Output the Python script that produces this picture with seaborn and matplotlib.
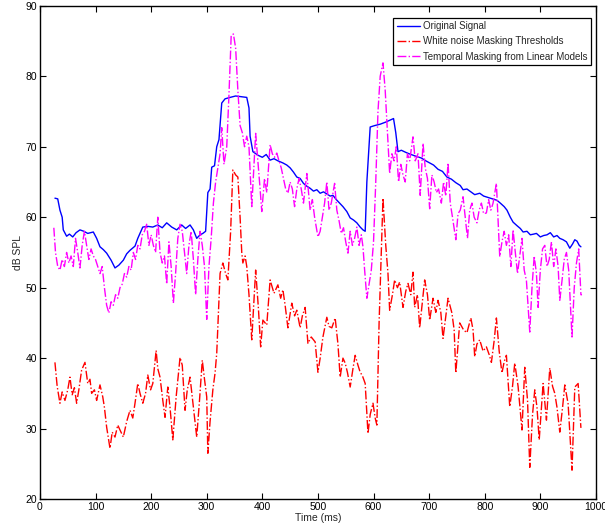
import numpy as np
import pandas as pd
import seaborn as sns
import matplotlib.pyplot as plt

# values (time in ms, level in dB SPL)
sig_t = [27, 32, 36, 40, 42, 48, 53, 59, 65, 72, 79, 86, 96, 102, 108, 114, 120,
         128, 135, 142, 150, 156, 162, 171, 176, 185, 194, 203, 212, 220, 228, 237,
         246, 255, 262, 270, 276, 282, 288, 293, 298, 302, 306, 309, 314, 318, 322,
         327, 333, 342, 352, 362, 372, 376, 378, 383, 392, 400, 407, 414, 421, 428,
         437, 444, 450, 456, 462, 468, 474, 480, 486, 492, 498, 504, 510, 516, 522,
         527, 533, 539, 545, 552, 558, 564, 570, 576, 581, 585, 588, 594, 602, 612,
         622, 633, 636, 640, 644, 650, 658, 664, 671, 678, 686, 694, 701, 708, 716,
         724, 732, 740, 748, 756, 761, 768, 775, 782, 791, 798, 806, 814, 822, 828,
         835, 840, 846, 851, 858, 864, 869, 876, 882, 888, 893, 900, 906, 912, 918,
         924, 930, 935, 941, 947, 953, 958, 962, 966, 970, 973]
sig_db = [62.7, 62.6, 61.0, 60.0, 58.2, 57.3, 57.6, 57.2, 57.8, 58.2, 58.0, 57.7, 57.9,
          57.0, 55.8, 55.4, 54.9, 53.9, 52.8, 53.2, 53.9, 54.8, 55.3, 55.9, 57.0, 58.6,
          58.7, 58.6, 58.9, 58.5, 59.2, 58.6, 58.2, 58.9, 58.4, 58.9, 58.2, 57.0, 57.5,
          57.7, 58.0, 63.5, 64.0, 67.1, 67.3, 70.0, 71.0, 76.2, 76.8, 77.0, 77.2, 77.1,
          77.0, 75.5, 71.5, 69.3, 68.8, 68.5, 68.9, 68.1, 68.3, 68.0, 67.7, 67.4, 67.0,
          66.4, 65.7, 65.5, 64.8, 64.4, 64.1, 63.7, 63.9, 63.4, 63.6, 63.3, 63.0, 63.1,
          62.5, 62.0, 61.5, 60.8, 59.9, 59.6, 59.2, 58.6, 58.2, 58.0, 65.0, 72.8, 73.0,
          73.2, 73.5, 73.9, 74.0, 72.0, 69.3, 69.5, 69.2, 69.0, 68.8, 68.6, 68.4, 68.0,
          67.7, 67.4, 66.8, 66.5, 65.7, 65.4, 64.9, 64.5, 63.9, 64.0, 63.6, 63.2, 63.4,
          63.0, 62.8, 62.6, 62.4, 62.0, 61.5, 61.0, 60.0, 59.3, 58.8, 58.4, 57.9, 58.0,
          57.5, 57.6, 57.7, 57.2, 57.4, 57.5, 57.8, 57.2, 57.4, 57.0, 56.8, 56.5, 55.6,
          56.2, 56.8, 56.6, 56.0, 55.8]

wn_t = [27, 31, 36, 40, 45, 50, 54, 58, 62, 66, 70, 75, 81, 86, 90, 93, 98, 102,
        108, 113, 116, 120, 126, 130, 135, 140, 144, 150, 156, 162, 167, 171, 176,
        180, 185, 190, 194, 199, 203, 209, 212, 216, 221, 225, 230, 234, 239, 245,
        252, 256, 261, 265, 270, 276, 282, 287, 292, 296, 300, 302, 306, 311, 315,
        318, 324, 329, 334, 338, 343, 347, 352, 356, 360, 363, 365, 369, 372, 376,
        381, 388, 393, 397, 401, 408, 414, 421, 428, 433, 437, 441, 446, 453, 458,
        462, 468, 472, 477, 482, 488, 495, 500, 504, 509, 516, 520, 525, 531, 536,
        540, 545, 549, 553, 558, 563, 567, 572, 576, 580, 585, 590, 594, 599, 603,
        606, 610, 614, 617, 622, 626, 629, 634, 638, 643, 647, 653, 658, 662, 667,
        671, 674, 679, 683, 688, 692, 697, 701, 707, 712, 716, 721, 725, 730, 734,
        741, 745, 748, 752, 755, 762, 768, 775, 779, 782, 786, 791, 797, 803, 808,
        812, 817, 821, 826, 831, 835, 839, 845, 850, 854, 860, 867, 872, 877, 881,
        886, 890, 894, 898, 905, 911, 917, 922, 926, 930, 935, 940, 944, 950, 957,
        962, 968, 973]
wn_db = [39.4, 36.0, 33.6, 35.2, 34.0, 35.5, 37.3, 34.8, 35.8, 33.6, 35.5, 38.3, 39.4,
         36.4, 37.0, 35.0, 35.5, 34.0, 36.2, 34.5, 33.0, 30.2, 27.2, 29.5, 28.8, 30.5,
         29.8, 28.8, 31.0, 32.6, 31.5, 33.6, 36.4, 35.0, 33.6, 35.0, 37.6, 35.5, 36.4,
         41.1, 38.5, 37.3, 34.0, 31.6, 35.9, 33.0, 28.4, 34.5, 40.1, 39.0, 32.6, 35.5,
         37.3, 33.0, 28.8, 34.0, 39.7, 37.0, 34.5, 26.5, 31.0, 35.5, 37.9, 40.7, 52.0,
         53.5, 52.0, 51.1, 58.0, 66.7, 66.0, 65.7, 60.0, 55.0, 53.5, 54.5, 53.0, 49.0,
         42.6, 52.5, 47.0, 41.6, 45.4, 44.7, 51.1, 49.2, 50.4, 48.5, 49.7, 47.5, 44.3,
         47.8, 46.0, 46.8, 44.3, 46.0, 47.2, 42.1, 43.0, 42.3, 38.0, 40.0, 43.0, 45.8,
         44.5, 44.3, 45.7, 42.0, 37.3, 40.0, 39.3, 38.0, 35.9, 38.5, 40.4, 39.0, 38.0,
         37.5, 36.4, 29.3, 32.0, 33.6, 31.5, 30.5, 45.0, 55.0, 62.7, 56.0, 52.0, 46.8,
         49.0, 51.1, 50.0, 50.8, 47.2, 49.5, 50.6, 49.0, 52.2, 47.2, 49.0, 44.3, 48.0,
         51.1, 49.0, 45.4, 48.5, 46.5, 48.2, 46.5, 42.8, 46.0, 48.5, 46.4, 44.0, 37.9,
         42.0, 45.0, 44.0, 43.6, 45.7, 44.0, 40.2, 42.0, 42.6, 41.0, 41.6, 40.5, 39.4,
         42.5, 45.7, 41.0, 37.9, 39.5, 40.4, 33.1, 36.0, 39.3, 36.0, 29.8, 38.7,
         34.0, 24.5, 32.0, 35.5, 33.0, 28.4, 36.4, 31.2, 38.6, 36.0, 35.0, 33.0, 29.5,
         33.0, 36.2, 33.5, 24.1, 35.9, 36.4, 30.1]

tm_t = [25, 28, 32, 36, 40, 44, 48, 52, 56, 60, 64, 68, 72, 76, 80, 84, 88, 92, 96,
        100, 104, 108, 112, 116, 120, 124, 128, 132, 136, 140, 144, 148, 152, 156,
        160, 164, 168, 172, 176, 180, 184, 188, 192, 196, 200, 204, 208, 212, 216,
        220, 224, 228, 232, 236, 240, 244, 248, 252, 256, 260, 264, 268, 272, 276,
        280, 284, 288, 292, 296, 300, 304, 308, 312, 316, 320, 324, 327, 331, 336,
        340, 344, 348, 352, 356, 360, 364, 368, 372, 376, 381, 384, 388, 392, 396,
        399, 404, 408, 414, 418, 422, 426, 430, 434, 438, 442, 446, 450, 454, 458,
        462, 466, 470, 474, 480, 486, 490, 494, 500, 504, 508, 512, 516, 520, 524,
        530, 534, 538, 542, 546, 550, 554, 558, 562, 566, 570, 574, 578, 581, 584,
        588, 592, 596, 600, 604, 608, 612, 617, 621, 625, 629, 633, 637, 641, 645,
        649, 653, 657, 661, 665, 671, 675, 680, 684, 689, 693, 697, 701, 705, 709,
        713, 717, 722, 726, 730, 734, 738, 742, 748, 752, 756, 761, 765, 769, 773,
        777, 781, 786, 790, 794, 798, 803, 807, 811, 815, 821, 827, 831, 835, 839,
        843, 847, 851, 855, 859, 863, 867, 871, 875, 881, 885, 889, 893, 896, 900,
        904, 908, 912, 916, 920, 924, 928, 932, 935, 939, 943, 947, 951, 957, 961,
        965, 969, 973, 975]
tm_db = [58.5, 55.0, 53.0, 52.5, 54.0, 53.0, 55.0, 53.5, 54.5, 53.0, 57.0, 55.0, 52.8,
         56.0, 58.0, 56.0, 54.0, 55.5, 54.5, 54.0, 53.0, 52.0, 53.0, 50.0, 47.5, 46.4,
         48.0, 47.5, 49.0, 48.5, 50.0, 50.5, 52.0, 51.5, 53.0, 52.5, 55.0, 54.0, 56.0,
         55.5, 57.5, 58.0, 59.0, 56.0, 57.5, 56.0, 55.0, 60.0, 55.0, 53.5, 54.5, 50.5,
         56.5, 53.0, 47.8, 52.0, 57.0, 59.0, 58.0, 55.0, 52.0, 56.0, 58.0, 54.0, 49.0,
         54.0, 58.0, 56.0, 53.0, 45.5, 53.0, 57.0, 62.0, 65.0, 67.0, 69.0, 72.7, 67.5,
         70.0, 77.4, 85.8, 86.0, 84.0, 78.0, 73.0, 72.0, 70.0, 71.5, 70.0, 61.5, 66.0,
         71.9, 68.0, 64.0, 60.8, 65.5, 63.5, 70.3, 69.0, 68.5, 69.1, 68.0, 67.0, 65.5,
         64.0, 63.4, 65.0, 64.0, 61.5, 64.0, 65.5, 64.0, 62.0, 66.2, 61.0, 62.5, 60.0,
         57.2, 58.0, 60.0, 62.0, 65.0, 61.0, 62.0, 64.8, 61.0, 59.5, 57.7, 58.5, 56.5,
         54.9, 58.0, 56.0, 57.0, 58.6, 56.0, 57.5, 55.8, 52.5, 48.5, 50.5, 52.5, 56.5,
         65.0, 75.0, 80.0, 81.9, 78.0, 72.0, 66.2, 69.0, 68.0, 70.0, 65.0, 67.5, 66.0,
         65.0, 69.0, 68.0, 71.4, 68.0, 69.0, 63.1, 70.5, 67.0, 65.5, 61.2, 66.0,
         65.0, 63.5, 64.0, 62.0, 65.0, 63.0, 67.7, 62.0, 60.0, 56.8, 60.5, 61.0, 62.9,
         60.0, 57.0, 61.0, 62.0, 60.0, 59.2, 61.0, 62.0, 60.5, 60.6, 62.5, 61.0, 62.0,
         64.8, 54.4, 56.5, 58.0, 56.0, 57.5, 53.0, 58.2, 55.0, 52.0, 54.5, 57.0, 52.5,
         51.0, 43.7, 50.0, 54.5, 52.0, 47.2, 52.5, 55.5, 56.0, 53.0, 54.0, 56.5, 53.0,
         55.5, 53.0, 48.2, 51.0, 54.0, 55.0, 52.5, 43.0, 50.0, 53.5, 55.5, 49.0, 49.0]

sns.set_style("ticks")
plt.rcParams["font.family"] = ["Liberation Sans", "DejaVu Sans"]

fig = plt.figure(figsize=(6.05, 5.27), dpi=100)
ax = fig.add_axes([0.066, 0.053, 0.919, 0.936])

sns.lineplot(x=sig_t, y=sig_db, ax=ax, sort=False, color="#0000ff", linewidth=1.0,
             label="Original Signal")
sns.lineplot(x=wn_t, y=wn_db, ax=ax, sort=False, color="#ff0000", linewidth=1.0,
             linestyle="-.", label="White noise Masking Thresholds")
sns.lineplot(x=tm_t, y=tm_db, ax=ax, sort=False, color="#ff00ff", linewidth=1.0,
             linestyle="-.", label="Temporal Masking from Linear Models")

ax.set_xlim(0, 1000)
ax.set_ylim(20, 90)
ax.set_xticks(np.arange(0, 1001, 100))
ax.set_yticks(np.arange(20, 91, 10))
ax.tick_params(direction="in", length=4, width=0.8, top=True, right=True,
               labelsize=7.5, pad=2, colors="black")
for sp in ax.spines.values():
    sp.set_linewidth(1.0)
    sp.set_color("black")
ax.set_xlabel("Time (ms)", fontsize=7.5, labelpad=1)
ax.set_ylabel("dB SPL", fontsize=7.5, labelpad=2)

leg = ax.legend(loc="upper right", bbox_to_anchor=(0.991, 0.976), borderaxespad=0,
                fontsize=7, frameon=True, fancybox=False, edgecolor="black",
                framealpha=1, handlelength=2.4, handletextpad=0.3, borderpad=0.35,
                labelspacing=0.55)
leg.get_frame().set_linewidth(0.9)

fig.savefig("out.png", dpi=100)
